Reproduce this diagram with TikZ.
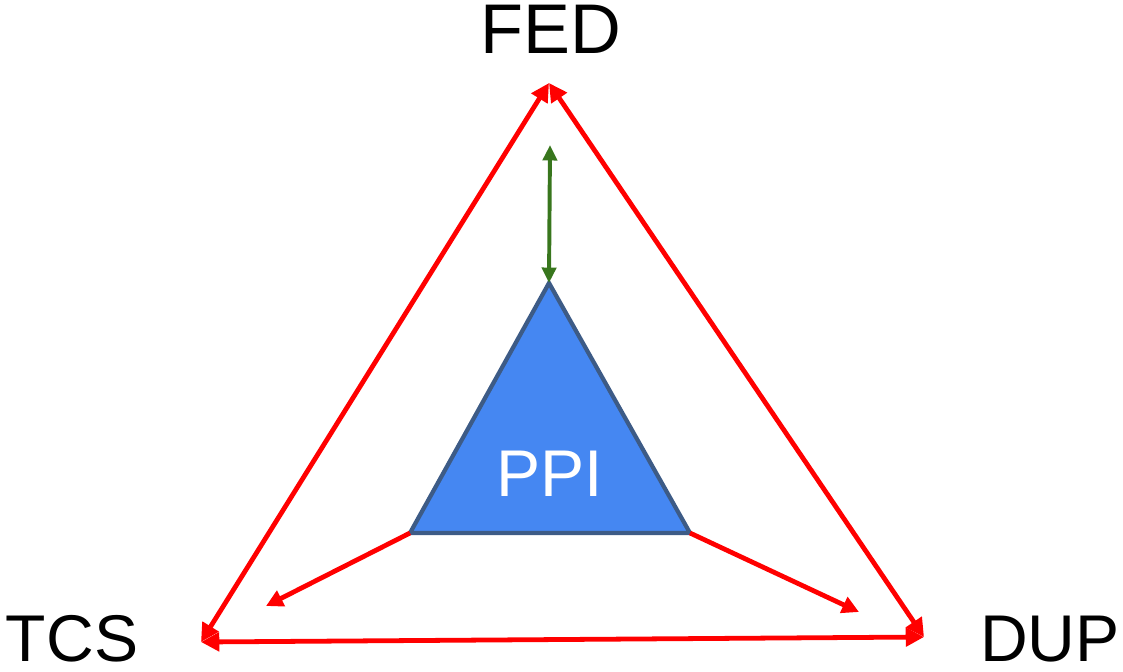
\documentclass[tikz,border=0pt]{standalone}
\usepackage{fontspec}
\setmainfont{Liberation Sans}
\usetikzlibrary{arrows.meta}
\definecolor{cred}{HTML}{FF0000}
\definecolor{cgreen}{HTML}{38761D}
\definecolor{cblue}{HTML}{4587F2}
\definecolor{cedge}{HTML}{3D5B86}
\tikzset{
  redarrow/.style={{Triangle[length=13pt, width=13pt]}-{Triangle[length=13pt, width=13pt]}, draw=cred, line width=3.4pt},
  tiparrow/.style={-{Triangle[length=12pt, width=12pt]}, draw=cred, line width=3.4pt},
  greenarrow/.style={{Triangle[length=11pt, width=10pt]}-{Triangle[length=11pt, width=10pt]}, draw=cgreen, line width=2.8pt},
  corner/.style={font=\fontsize{47}{47}\selectfont, text=black, inner sep=0pt},
}
\begin{document}
\begin{tikzpicture}[x=0.025cm, y=-0.025cm]
  \useasboundingbox (0,0) rectangle (1123,671);
  % ---------- outer triangle
  \coordinate (top) at (549,83);
  \coordinate (left) at (201,642);
  \coordinate (right) at (924,637);
  \node[corner, font=\fontsize{50}{50}\selectfont] (FED) at (551,29) {FED};
  \node[corner] (TCS) at (72,639) {TCS};
  \node[corner] (DUP) at (1050,639) {DUP};
  % ---------- PPI
  \coordinate (p1) at (549,283);
  \coordinate (p2) at (410,533);
  \coordinate (p3) at (690,533);
  \draw[fill=cblue, draw=cedge, line width=3pt, line join=miter] (p1) -- (p2) -- (p3) -- cycle;
  \node[font=\fontsize{47}{47}\selectfont, text=white, inner sep=0pt] (PPI) at (550,474) {PPI};
  % ---------- arrows
  \draw[redarrow] (left) -- (top);
  \draw[redarrow] (top) -- (right);
  \draw[redarrow] (left) -- (right);
  \coordinate (la) at (266,606);
  \coordinate (ra) at (859,612);
  \draw[tiparrow] (p2) -- (la);
  \draw[tiparrow] (p3) -- (ra);
  \coordinate (ga) at (550,145);
  \draw[greenarrow] (ga) -- (p1);
\end{tikzpicture}
\end{document}
